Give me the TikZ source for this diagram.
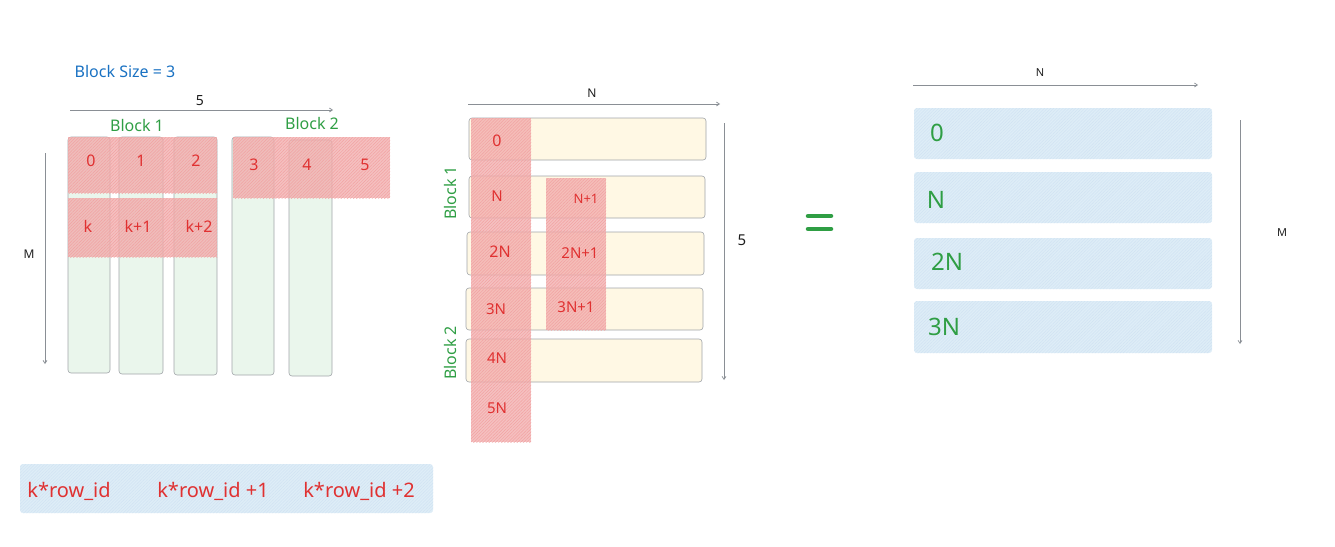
\documentclass[tikz,border=0pt]{standalone}
\usepackage{fontspec}
\setmainfont{Noto Sans}
\usetikzlibrary{patterns.meta,arrows.meta}
\definecolor{xred}{HTML}{E03131}
\definecolor{xgreen}{HTML}{2F9E44}
\definecolor{xblue}{HTML}{1971C2}
\definecolor{xink}{HTML}{1E1E1E}
\definecolor{xgray}{HTML}{8A8F95}
\definecolor{colgreen}{HTML}{EAF6EC}
\definecolor{rowyellow}{HTML}{FFF8E4}
\definecolor{hred}{HTML}{F2ABAB}
\definecolor{hblue}{HTML}{DEEDF7}
\begin{document}
\begin{tikzpicture}[x=1pt,y=-1pt,
  box/.style={draw=xgray!80, line width=0.6pt, rounded corners=3pt, inner sep=0pt},
  colbox/.style={box, fill=colgreen},
  rowbox/.style={box, fill=rowyellow},
  redhatch/.style={fill=hred, fill opacity=0.75, postaction={pattern={Lines[angle=45,distance=2.2pt,line width=0.5pt]}, pattern color=xred!45}},
  bluehatch/.style={fill=hblue, rounded corners=3pt, postaction={pattern={Lines[angle=45,distance=2.2pt,line width=0.5pt]}, pattern color=xblue!20}},
  dim/.style={draw=xgray, line width=0.7pt, -{Straight Barb[length=3pt,width=4pt]}},
  lbl/.style={font=\fontsize{16}{18}\selectfont, text=xred, inner sep=0pt},
  slbl/.style={font=\fontsize{13}{15}\selectfont, text=xred, inner sep=0pt},
  mlbl/.style={font=\fontsize{15}{17}\selectfont, text=xred, inner sep=0pt},
  glbl/.style={font=\fontsize{16}{18}\selectfont, text=xgreen, inner sep=0pt},
  bglbl/.style={font=\fontsize{24}{26}\selectfont, text=xgreen, inner sep=0pt},
  klbl/.style={font=\fontsize{14}{16}\selectfont, text=xink, inner sep=0pt},
  leg/.style={font=\fontsize{20}{22}\selectfont, text=xred, inner sep=0pt},
]
\useasboundingbox (0,0) rectangle (1335,546);

% ---------- left panel ----------
\node[font=\fontsize{16}{18}\selectfont, text=xblue, inner sep=0pt] (bsize) at (125,71) {Block Size = 3};
\coordinate (t5a) at (70,110);
\coordinate (t5b) at (333,110);
\draw[dim] (t5a) -- (t5b);
\node[klbl] (t5) at (200,101) {5};
\node[glbl] (blk1) at (137,125) {Block 1};
\node[glbl] (blk2) at (312,123) {Block 2};

\node[colbox, minimum width=42, minimum height=236] (c0) at (89,255) {};
\node[colbox, minimum width=44, minimum height=237] (c1) at (141,255.5) {};
\node[colbox, minimum width=43, minimum height=238] (c2) at (195.5,256) {};
\node[colbox, minimum width=42, minimum height=238] (c3) at (253,256) {};
\node[colbox, minimum width=43, minimum height=236] (c4) at (310.5,258) {};

\path[redhatch] (68,137) rectangle (217,193);
\path[redhatch] (68,198) rectangle (217,257);
\path[redhatch] (233,137) rectangle (390,198);

\node[lbl] (l0) at (91,161) {0};
\node[lbl] (l1) at (141,161) {1};
\node[lbl] (l2) at (196,161) {2};
\node[lbl] (l3) at (254,165) {3};
\node[lbl] (l4) at (307,165) {4};
\node[lbl] (l5) at (365,165) {5};
\node[lbl] (lk) at (88,226) {k};
\node[lbl] (lk1) at (138,226) {k+1};
\node[lbl] (lk2) at (199,226) {k+2};

\coordinate (mLa) at (45,153);
\coordinate (mLb) at (45,364);
\draw[dim] (mLa) -- (mLb);
\node[klbl, font=\fontsize{12}{14}\selectfont] (mL) at (29,254) {M};

% ---------- bottom legend ----------
\path[bluehatch] (20,464) rectangle (433,513);
\node[leg] (kr0) at (69,491) {k*row\_id};
\node[leg] (kr1) at (213,491) {k*row\_id +1};
\node[leg] (kr2) at (359,491) {k*row\_id +2};

% ---------- middle panel ----------
\coordinate (nMa) at (468,104);
\coordinate (nMb) at (720,104);
\draw[dim] (nMa) -- (nMb);
\node[klbl, font=\fontsize{12}{14}\selectfont] (nM) at (592,93) {N};

\node[rowbox, minimum width=237, minimum height=42] (r0) at (587.5,139) {};
\node[rowbox, minimum width=236, minimum height=42] (r1) at (587,197) {};
\node[rowbox, minimum width=237, minimum height=43] (r2) at (585.5,253.5) {};
\node[rowbox, minimum width=237, minimum height=42] (r3) at (584.5,309) {};
\node[rowbox, minimum width=236, minimum height=43] (r4) at (584,360.5) {};

\path[redhatch] (471,118) rectangle (531,442);
\path[redhatch] (546,178) rectangle (606,330);

\node[lbl] (m0) at (497,141) {0};
\node[mlbl] (m1) at (497,196) {N};
\node[lbl] (m2) at (500,252) {2N};
\node[mlbl] (m3) at (496,309) {3N};
\node[mlbl] (m4) at (497,358) {4N};
\node[mlbl] (m5) at (497,408) {5N};
\node[slbl] (m11) at (586,199) {N+1};
\node[mlbl] (m21) at (580,253) {2N+1};
\node[mlbl] (m31) at (576,307) {3N+1};

\node[glbl, rotate=90] (mb1) at (450,193) {Block 1};
\node[glbl, rotate=90] (mb2) at (450,353) {Block 2};

\coordinate (fMa) at (724,123);
\coordinate (fMb) at (724,380);
\draw[dim] (fMa) -- (fMb);
\node[klbl, font=\fontsize{15}{17}\selectfont] (fM) at (742,240) {5};

% ---------- equals ----------
\coordinate (eqa) at (808,216);
\coordinate (eqb) at (831,216);
\coordinate (eqc) at (808,229);
\coordinate (eqd) at (831,229);
\draw[xgreen, line width=4.5pt, line cap=round] (eqa) -- (eqb) (eqc) -- (eqd);

% ---------- right panel ----------
\coordinate (nRa) at (913,85);
\coordinate (nRb) at (1198,85);
\draw[dim] (nRa) -- (nRb);
\node[klbl, font=\fontsize{11}{13}\selectfont] (nR) at (1040,73) {N};

\path[bluehatch] (914,108) rectangle (1212,159);
\path[bluehatch] (914,172) rectangle (1212,223);
\path[bluehatch] (914,238) rectangle (1212,289);
\path[bluehatch] (914,301) rectangle (1212,353);

\node[bglbl] (b0) at (937,133) {0};
\node[bglbl] (b1) at (936,200) {N};
\node[bglbl] (b2) at (947,262) {2N};
\node[bglbl] (b3) at (944,327) {3N};

\coordinate (mRa) at (1240,120);
\coordinate (mRb) at (1240,344);
\draw[dim] (mRa) -- (mRb);
\node[klbl, font=\fontsize{11}{13}\selectfont] (mR) at (1282,233) {M};
\end{tikzpicture}
\end{document}
